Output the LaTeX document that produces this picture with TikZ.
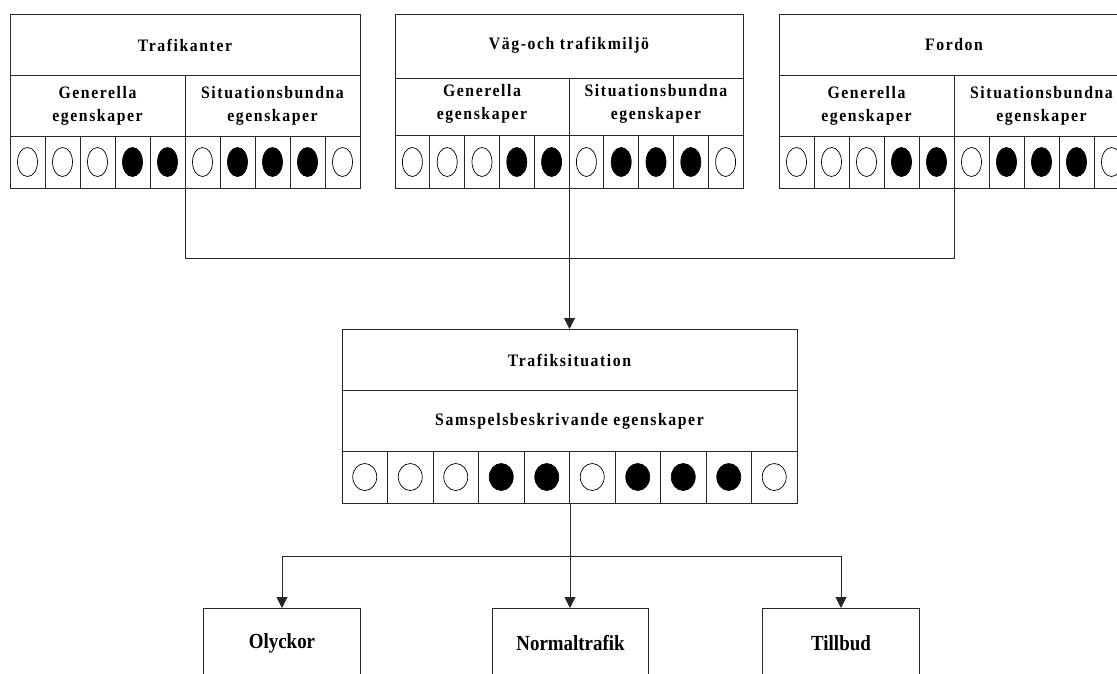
\documentclass[tikz,border=0pt]{standalone}
\usepackage{fontspec}
\setmainfont{Liberation Serif}
\newfontfamily\labfont[LetterSpace=9,FakeStretch=0.9]{Liberation Serif}
\newfontfamily\botfont[FakeStretch=0.88]{Liberation Serif}
\usetikzlibrary{arrows.meta}
\begin{document}
\begin{tikzpicture}[x=1pt,y=-1pt,
  ln/.style={draw=black!85, line width=1pt},
  boxn/.style={ln, rectangle, inner sep=0pt, anchor=north west},
  ttl/.style={font=\labfont\bfseries\fontsize{17.5}{23}\selectfont, align=center, inner sep=0pt},
  btl/.style={font=\botfont\bfseries\fontsize{21.5}{24}\selectfont, inner sep=0pt},
  arr/.style={ln, -{Triangle[width=11pt,length=11pt]}},
  ov/.style={draw=black, line width=0.7pt}]
\clip (0,0) rectangle (1117,673);
\fill[white] (0,0) rectangle (1117,673);

% ---------- top box 1: Trafikanter ----------
\node[boxn, minimum width=350pt, minimum height=174pt] (t1) at (10,14) {};
\draw[ln] (10,75) -- (360,75);
\draw[ln] (10,136) -- (360,136);
\draw[ln] (185,75) -- (185,136);
\foreach \i in {1,...,9} \draw[ln] (10+\i*35,136) -- (10+\i*35,188);
\node[ttl] (t1t) at (185,45) {Trafikanter};
\node[ttl] (t1g) at (97.5,106) {Generella\\egenskaper};
\node[ttl] (t1s) at (272.5,106) {Situationsbundna\\egenskaper};
\foreach \i/\f in {0/white,1/white,2/white,3/black,4/black,5/white,6/black,7/black,8/black,9/white}
  \draw[ov, fill=\f] (27.5+\i*35,162) ellipse [x radius=10pt, y radius=14.5pt];

% ---------- top box 2: Vag-och trafikmiljo ----------
\node[boxn, minimum width=348pt, minimum height=174pt] (t2) at (395,14) {};
\draw[ln] (395,78) -- (743,78);
\draw[ln] (395,135) -- (743,135);
\draw[ln] (569,78) -- (569,135);
\foreach \i in {1,...,9} \draw[ln] (395+\i*34.8,135) -- (395+\i*34.8,188);
\node[ttl] (t2t) at (569,45) {Väg-och trafikmiljö};
\node[ttl] (t2g) at (482,104) {Generella\\egenskaper};
\node[ttl] (t2s) at (656,104) {Situationsbundna\\egenskaper};
\foreach \i/\f in {0/white,1/white,2/white,3/black,4/black,5/white,6/black,7/black,8/black,9/white}
  \draw[ov, fill=\f] (412.4+\i*34.8,162) ellipse [x radius=10pt, y radius=14.5pt];

% ---------- top box 3: Fordon ----------
\node[boxn, minimum width=350pt, minimum height=174pt] (t3) at (779,14) {};
\draw[ln] (779,75) -- (1129,75);
\draw[ln] (779,136) -- (1129,136);
\draw[ln] (954,75) -- (954,136);
\foreach \i in {1,...,9} \draw[ln] (779+\i*35,136) -- (779+\i*35,188);
\node[ttl] (t3t) at (954,45) {Fordon};
\node[ttl] (t3g) at (866.5,106) {Generella\\egenskaper};
\node[ttl] (t3s) at (1041.5,106) {Situationsbundna\\egenskaper};
\foreach \i/\f in {0/white,1/white,2/white,3/black,4/black,5/white,6/black,7/black,8/black,9/white}
  \draw[ov, fill=\f] (796.5+\i*35,162) ellipse [x radius=10pt, y radius=14.5pt];

% ---------- Trafiksituation ----------
\node[boxn, minimum width=455pt, minimum height=174pt] (ts) at (342,329) {};
\draw[ln] (342,390) -- (797,390);
\draw[ln] (342,451) -- (797,451);
\foreach \i in {1,...,9} \draw[ln] (342+\i*45.5,451) -- (342+\i*45.5,503);
\node[ttl] (tst) at (569.5,360) {Trafiksituation};
\node[ttl] (tss) at (569.5,421) {Samspelsbeskrivande egenskaper};
\foreach \i/\f in {0/white,1/white,2/white,3/black,4/black,5/white,6/black,7/black,8/black,9/white}
  \draw[ov, fill=\f] (364.75+\i*45.5,477) ellipse [x radius=12pt, y radius=13.5pt];

% ---------- bottom boxes ----------
\node[boxn, minimum width=157pt, minimum height=70pt] (oly) at (203,608) {};
\node[boxn, minimum width=156pt, minimum height=70pt] (nor) at (492,608) {};
\node[boxn, minimum width=157pt, minimum height=70pt] (til) at (762,608) {};
\node[btl] (olyt) at (oly.center) {Olyckor};
\node[btl] (nort) at (nor.center) {Normaltrafik};
\node[btl] (tilt) at (til.center) {Tillbud};

% ---------- connectors ----------
\coordinate (j) at (569,258);
\coordinate (k) at (570,556);
\draw[ln] (t1.south) |- (j);
\draw[ln] (t3.south) |- (j);
\draw[arr] (t2.south) -- (ts.north -| t2.south);
\draw[ln] (ts.south -| k) -- (k);
\draw[arr] (k) -| (oly.north);
\draw[arr] (k) -- (nor.north -| k);
\draw[arr] (k) -| (til.north);
\end{tikzpicture}
\end{document}
